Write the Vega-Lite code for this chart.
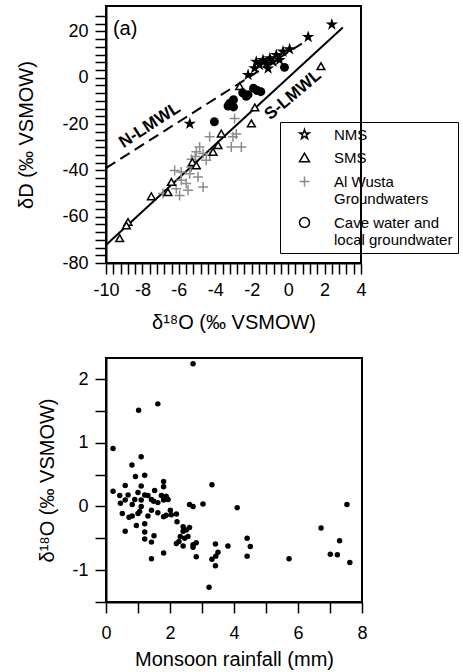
{
  "$schema": "https://vega.github.io/schema/vega-lite/v6.json",
  "padding": {"left": 15, "top": 5, "right": 0, "bottom": 0},
  "config": {
    "font": "Liberation Sans",
    "view": {"stroke": "black", "strokeWidth": 2},
    "axis": {"domainColor": "black", "domainWidth": 2, "tickSize": 11, "tickColor": "black", "tickWidth": 1.5, "labelColor": "black", "labelFontSize": 18, "titleFontSize": 20, "titleFontWeight": "normal", "titleColor": "black", "grid": false, "labelPadding": 7, "labelFont": "Liberation Sans", "titleFont": "Liberation Sans", "labelOverlap": false, "labelFlush": false}
  },
  "spacing": 24,
  "resolve": {"scale": {"shape": "independent", "color": "independent"}, "legend": {"shape": "independent", "color": "independent"}},
  "datasets": {
    "iso": [
      {"series": "NMS", "d18O": 2.4, "dD": 23},
      {"series": "NMS", "d18O": 1.1, "dD": 17.6},
      {"series": "NMS", "d18O": 0.08, "dD": 12.3},
      {"series": "NMS", "d18O": -0.28, "dD": 11.3},
      {"series": "NMS", "d18O": -0.65, "dD": 9.8},
      {"series": "NMS", "d18O": -1.0, "dD": 8.4},
      {"series": "NMS", "d18O": -1.38, "dD": 7.7},
      {"series": "NMS", "d18O": -1.75, "dD": 6.9},
      {"series": "NMS", "d18O": -1.57, "dD": 5.5},
      {"series": "NMS", "d18O": -1.2, "dD": 6.2},
      {"series": "NMS", "d18O": -0.83, "dD": 6.9},
      {"series": "NMS", "d18O": -1.84, "dD": 4.1},
      {"series": "NMS", "d18O": -2.2, "dD": 1.2},
      {"series": "NMS", "d18O": -0.47, "dD": 7.7},
      {"series": "NMS", "d18O": -1.1, "dD": 4.0},
      {"series": "NMS", "d18O": -5.4, "dD": -19.9},
      {"series": "SMS", "d18O": 1.8, "dD": 5},
      {"series": "SMS", "d18O": -2.66, "dD": -3.6},
      {"series": "SMS", "d18O": -1.83, "dD": -12.8},
      {"series": "SMS", "d18O": -2.02, "dD": -19.7},
      {"series": "SMS", "d18O": -3.67, "dD": -24.1},
      {"series": "SMS", "d18O": -3.85, "dD": -29.1},
      {"series": "SMS", "d18O": -4.12, "dD": -32},
      {"series": "SMS", "d18O": -5.26, "dD": -36.4},
      {"series": "SMS", "d18O": -5.04, "dD": -37.8},
      {"series": "SMS", "d18O": -6.41, "dD": -45},
      {"series": "SMS", "d18O": -6.6, "dD": -49.4},
      {"series": "SMS", "d18O": -7.51, "dD": -51.2},
      {"series": "SMS", "d18O": -8.79, "dD": -62.3},
      {"series": "SMS", "d18O": -8.88, "dD": -63.8},
      {"series": "SMS", "d18O": -9.25, "dD": -69.3},
      {"series": "Al Wusta|Groundwaters", "d18O": -2.94, "dD": -17.6},
      {"series": "Al Wusta|Groundwaters", "d18O": -3.03, "dD": -25.5},
      {"series": "Al Wusta|Groundwaters", "d18O": -2.85, "dD": -24.3},
      {"series": "Al Wusta|Groundwaters", "d18O": -2.57, "dD": -29.9},
      {"series": "Al Wusta|Groundwaters", "d18O": -4.31, "dD": -25.5},
      {"series": "Al Wusta|Groundwaters", "d18O": -4.86, "dD": -29.9},
      {"series": "Al Wusta|Groundwaters", "d18O": -5.04, "dD": -32},
      {"series": "Al Wusta|Groundwaters", "d18O": -4.67, "dD": -32.7},
      {"series": "Al Wusta|Groundwaters", "d18O": -4.31, "dD": -33.5},
      {"series": "Al Wusta|Groundwaters", "d18O": -3.12, "dD": -29.9},
      {"series": "Al Wusta|Groundwaters", "d18O": -6.23, "dD": -40},
      {"series": "Al Wusta|Groundwaters", "d18O": -5.87, "dD": -40.7},
      {"series": "Al Wusta|Groundwaters", "d18O": -5.4, "dD": -41.4},
      {"series": "Al Wusta|Groundwaters", "d18O": -4.95, "dD": -42.9},
      {"series": "Al Wusta|Groundwaters", "d18O": -5.87, "dD": -44.3},
      {"series": "Al Wusta|Groundwaters", "d18O": -5.6, "dD": -45.7},
      {"series": "Al Wusta|Groundwaters", "d18O": -6.14, "dD": -47.9},
      {"series": "Al Wusta|Groundwaters", "d18O": -5.5, "dD": -48.6},
      {"series": "Al Wusta|Groundwaters", "d18O": -5.96, "dD": -50.8},
      {"series": "Al Wusta|Groundwaters", "d18O": -4.67, "dD": -47.2},
      {"series": "Al Wusta|Groundwaters", "d18O": -5.32, "dD": -38.5},
      {"series": "Al Wusta|Groundwaters", "d18O": -6.87, "dD": -50},
      {"series": "Al Wusta|Groundwaters", "d18O": -4.5, "dD": -35.6},
      {"series": "Al Wusta|Groundwaters", "d18O": -5.1, "dD": -34},
      {"series": "Al Wusta|Groundwaters", "d18O": -5.3, "dD": -35.2},
      {"series": "Cave water and|local groundwater", "d18O": -0.2, "dD": 4.5},
      {"series": "Cave water and|local groundwater", "d18O": -1.7, "dD": -5.5},
      {"series": "Cave water and|local groundwater", "d18O": -1.9, "dD": -4.5},
      {"series": "Cave water and|local groundwater", "d18O": -2.2, "dD": -7.3},
      {"series": "Cave water and|local groundwater", "d18O": -2.5, "dD": -6.5},
      {"series": "Cave water and|local groundwater", "d18O": -2.3, "dD": -8},
      {"series": "Cave water and|local groundwater", "d18O": -3.0, "dD": -9.5},
      {"series": "Cave water and|local groundwater", "d18O": -3.2, "dD": -11},
      {"series": "Cave water and|local groundwater", "d18O": -3.3, "dD": -12.2},
      {"series": "Cave water and|local groundwater", "d18O": -3.0, "dD": -12.6},
      {"series": "Cave water and|local groundwater", "d18O": -4.05, "dD": -19},
      {"series": "Cave water and|local groundwater", "d18O": -1.5, "dD": -6}
    ],
    "lines": [
      {"line": "N-LMWL", "d18O": -10, "dD": -39},
      {"line": "N-LMWL", "d18O": 0.9, "dD": 15.5},
      {"line": "S-LMWL", "d18O": -10, "dD": -72.2},
      {"line": "S-LMWL", "d18O": 3.0, "dD": 21.7}
    ],
    "rain": [
      {"rain": 2.72, "d18O": 2.24}, {"rain": 1.62, "d18O": 1.61}, {"rain": 1.02, "d18O": 1.51}, {"rain": 0.22, "d18O": 0.91},
      {"rain": 1.10, "d18O": 0.78}, {"rain": 0.81, "d18O": 0.65}, {"rain": 0.92, "d18O": 0.47}, {"rain": 1.21, "d18O": 0.49},
      {"rain": 3.31, "d18O": 0.34}, {"rain": 0.60, "d18O": 0.33}, {"rain": 1.10, "d18O": 0.32}, {"rain": 1.80, "d18O": 0.39},
      {"rain": 1.80, "d18O": 0.31}, {"rain": 0.22, "d18O": 0.24}, {"rain": 0.43, "d18O": 0.17}, {"rain": 0.69, "d18O": 0.18},
      {"rain": 0.60, "d18O": 0.10}, {"rain": 0.82, "d18O": 0.03}, {"rain": 0.90, "d18O": 0.11}, {"rain": 1.10, "d18O": 0.10},
      {"rain": 1.10, "d18O": 0.0}, {"rain": 1.05, "d18O": -0.08}, {"rain": 1.21, "d18O": 0.18}, {"rain": 1.31, "d18O": 0.17},
      {"rain": 1.42, "d18O": 0.11}, {"rain": 1.52, "d18O": 0.25}, {"rain": 1.49, "d18O": 0.08}, {"rain": 1.62, "d18O": 0.06},
      {"rain": 1.73, "d18O": 0.17}, {"rain": 1.88, "d18O": 0.16}, {"rain": 1.94, "d18O": 0.11}, {"rain": 1.80, "d18O": 0.10},
      {"rain": 0.51, "d18O": -0.11}, {"rain": 0.72, "d18O": -0.17}, {"rain": 0.82, "d18O": -0.15}, {"rain": 1.0, "d18O": -0.11},
      {"rain": 1.31, "d18O": -0.15}, {"rain": 1.42, "d18O": -0.06}, {"rain": 1.62, "d18O": -0.10}, {"rain": 1.80, "d18O": -0.16},
      {"rain": 1.88, "d18O": -0.14}, {"rain": 2.01, "d18O": -0.06}, {"rain": 2.04, "d18O": -0.13}, {"rain": 2.20, "d18O": -0.12},
      {"rain": 2.22, "d18O": -0.24}, {"rain": 1.21, "d18O": -0.27}, {"rain": 0.60, "d18O": -0.39}, {"rain": 1.21, "d18O": -0.40},
      {"rain": 1.21, "d18O": -0.51}, {"rain": 1.5, "d18O": -0.46}, {"rain": 1.42, "d18O": -0.56}, {"rain": 1.42, "d18O": -0.82},
      {"rain": 1.80, "d18O": -0.73}, {"rain": 2.20, "d18O": -0.58}, {"rain": 2.41, "d18O": -0.32}, {"rain": 2.41, "d18O": -0.39},
      {"rain": 2.51, "d18O": -0.37}, {"rain": 2.61, "d18O": -0.33}, {"rain": 2.32, "d18O": -0.47}, {"rain": 2.46, "d18O": -0.50},
      {"rain": 2.56, "d18O": -0.47}, {"rain": 2.41, "d18O": -0.62}, {"rain": 2.28, "d18O": -0.55}, {"rain": 2.72, "d18O": -0.60},
      {"rain": 2.82, "d18O": -0.57}, {"rain": 2.72, "d18O": -0.64}, {"rain": 2.82, "d18O": -0.79}, {"rain": 2.61, "d18O": 0.03},
      {"rain": 2.72, "d18O": 0.0}, {"rain": 3.03, "d18O": 0.04}, {"rain": 3.22, "d18O": -1.27}, {"rain": 3.31, "d18O": -0.83},
      {"rain": 3.42, "d18O": -0.59}, {"rain": 3.43, "d18O": -0.78}, {"rain": 3.5, "d18O": -0.72}, {"rain": 3.42, "d18O": -0.93},
      {"rain": 3.81, "d18O": -0.62}, {"rain": 4.10, "d18O": -0.02}, {"rain": 4.41, "d18O": -0.50}, {"rain": 4.51, "d18O": -0.63},
      {"rain": 4.41, "d18O": -0.78}, {"rain": 5.72, "d18O": -0.82}, {"rain": 6.72, "d18O": -0.34}, {"rain": 7.01, "d18O": -0.75},
      {"rain": 7.23, "d18O": -0.76}, {"rain": 7.30, "d18O": -0.54}, {"rain": 7.53, "d18O": 0.03}, {"rain": 7.62, "d18O": -0.88},
      {"rain": 0.45, "d18O": 0.05}, {"rain": 1.0, "d18O": 0.22}, {"rain": 0.95, "d18O": -0.3}
    ],
    "labelsA": [
      {"t": "(a)", "d18O": -9.62, "dD": 21.1},
      {"t": "N-LMWL", "d18O": -7.6, "dD": -20.5},
      {"t": "S-LMWL", "d18O": 0.27, "dD": -7.4}
    ]
  },
  "vconcat": [
    {
      "width": 255,
      "height": 257,
      "encoding": {
        "x": {"field": "d18O", "type": "quantitative", "scale": {"domain": [-10, 4], "nice": false, "zero": false},
          "axis": {"title": "δ¹⁸O (‰ VSMOW)", "titlePadding": 13,
            "values": [-10,-9.6,-9.2,-8.8,-8.4,-8,-7.6,-7.2,-6.8,-6.4,-6,-5.6,-5.2,-4.8,-4.4,-4,-3.6,-3.2,-2.8,-2.4,-2,-1.6,-1.2,-0.8,-0.4,0,0.4,0.8,1.2,1.6,2,2.4,2.8,3.2,3.6,4],
            "labelExpr": "abs(datum.value/2 - round(datum.value/2)) < 0.001 ? ('' + datum.value) : ''"}},
        "y": {"field": "dD", "type": "quantitative", "scale": {"domain": [-80, 31], "nice": false, "zero": false},
          "axis": {"title": "δD (‰ VSMOW)", "titlePadding": 25,
            "values": [-80,-76.667,-73.333,-70,-66.667,-63.333,-60,-56.667,-53.333,-50,-46.667,-43.333,-40,-36.667,-33.333,-30,-26.667,-23.333,-20,-16.667,-13.333,-10,-6.667,-3.333,0,3.333,6.667,10,13.333,16.667,20,23.333,26.667],
            "labelExpr": "abs(datum.value/20 - round(datum.value/20)) < 0.001 ? ('' + datum.value) : ''"}}
      },
      "layer": [
        {
          "data": {"name": "lines"},
          "transform": [{"filter": "datum.line === 'N-LMWL'"}],
          "mark": {"type": "line", "color": "black", "strokeWidth": 2, "strokeDash": [11, 6]},
          "encoding": {}
        },
        {
          "data": {"name": "lines"},
          "transform": [{"filter": "datum.line === 'S-LMWL'"}],
          "mark": {"type": "line", "color": "black", "strokeWidth": 2},
          "encoding": {}
        },
        {
          "data": {"name": "iso"},
          "mark": {"type": "point", "filled": false, "opacity": 0, "strokeWidth": 1.5, "size": 90},
          "encoding": {
            "shape": {"field": "series", "type": "nominal",
              "scale": {"domain": ["NMS", "SMS", "Al Wusta|Groundwaters", "Cave water and|local groundwater"],
                "range": ["M0,-1L0.225,-0.309L0.951,-0.309L0.363,0.118L0.588,0.809L0,0.382L-0.588,0.809L-0.363,0.118L-0.951,-0.309L-0.225,-0.309Z", "triangle-up", "M-1,0L1,0M0,-1L0,1", "circle"]},
              "legend": {"title": null, "orient": "none", "legendX": 174, "legendY": 116, "strokeColor": "black", "padding": 5, "symbolOffset": 12, "labelOffset": 22, "labelFontSize": 15, "labelColor": "black", "labelLimit": 300, "rowPadding": 7, "symbolSize": 100, "symbolStrokeWidth": 1.5, "symbolOpacity": 1, "labelExpr": "split(datum.label, '|')",
                "encode": {"symbols": {"update": {"fill": {"signal": "datum.value === 'NMS' || datum.value === 'Cave water and|local groundwater' ? 'black' : 'transparent'"}}}}}},
            "color": {"field": "series", "type": "nominal",
              "scale": {"domain": ["NMS", "SMS", "Al Wusta|Groundwaters", "Cave water and|local groundwater"], "range": ["black", "black", "#8c8c8c", "black"]},
              "legend": {"title": null, "orient": "none", "legendX": 174, "legendY": 116, "strokeColor": "black", "padding": 5, "symbolOffset": 12, "labelOffset": 22, "labelFontSize": 15, "labelColor": "black", "labelLimit": 300, "rowPadding": 7, "symbolSize": 100, "symbolStrokeWidth": 1.5, "symbolOpacity": 1, "labelExpr": "split(datum.label, '|')",
                "encode": {"symbols": {"update": {"fill": {"signal": "datum.value === 'NMS' || datum.value === 'Cave water and|local groundwater' ? 'black' : 'transparent'"}}}}}}
          }
        },
        {
          "data": {"name": "iso"},
          "transform": [{"filter": "datum.series === 'Al Wusta|Groundwaters'"}],
          "mark": {"type": "point", "shape": "M-1,0L1,0M0,-1L0,1", "stroke": "#8c8c8c", "strokeWidth": 1.5, "size": 100, "opacity": 1}
        },
        {
          "data": {"name": "iso"},
          "transform": [{"filter": "datum.series === 'SMS'"}],
          "mark": {"type": "point", "shape": "triangle-up", "fill": "white", "stroke": "black", "filled": true, "strokeWidth": 1.5, "size": 60, "opacity": 1}
        },
        {
          "data": {"name": "iso"},
          "transform": [{"filter": "datum.series === 'NMS'"}],
          "mark": {"type": "point", "shape": "M0,-1L0.225,-0.309L0.951,-0.309L0.363,0.118L0.588,0.809L0,0.382L-0.588,0.809L-0.363,0.118L-0.951,-0.309L-0.225,-0.309Z", "filled": true, "color": "black", "size": 170, "opacity": 1}
        },
        {
          "data": {"name": "iso"},
          "transform": [{"filter": "datum.series === 'Cave water and|local groundwater'"}],
          "mark": {"type": "circle", "color": "black", "size": 80, "opacity": 1}
        },
        {
          "data": {"name": "labelsA"},
          "transform": [{"filter": "datum.t === '(a)'"}],
          "mark": {"type": "text", "align": "left", "baseline": "middle", "fontSize": 20, "color": "black"},
          "encoding": {"text": {"field": "t"}}
        },
        {
          "data": {"name": "labelsA"},
          "transform": [{"filter": "datum.t === 'N-LMWL'"}],
          "mark": {"type": "text", "align": "center", "baseline": "middle", "fontSize": 17, "fontWeight": "bold", "angle": -33, "color": "black"},
          "encoding": {"text": {"field": "t"}}
        },
        {
          "data": {"name": "labelsA"},
          "transform": [{"filter": "datum.t === 'S-LMWL'"}],
          "mark": {"type": "text", "align": "center", "baseline": "middle", "fontSize": 17, "fontWeight": "bold", "angle": -40, "color": "black"},
          "encoding": {"text": {"field": "t"}}
        }
      ]
    },
    {
      "width": 256,
      "height": 244,
      "data": {"name": "rain"},
      "mark": {"type": "circle", "size": 30, "color": "black", "opacity": 1},
      "encoding": {
        "x": {"field": "rain", "type": "quantitative", "scale": {"domain": [0, 8], "nice": false},
          "axis": {"title": "Monsoon rainfall (mm)", "titlePadding": 7, "labelPadding": 11, "values": [0,1,2,3,4,5,6,7,8],
            "labelExpr": "datum.value % 2 === 0 ? ('' + datum.value) : ''"}},
        "y": {"field": "d18O", "type": "quantitative", "scale": {"domain": [-1.5, 2.33], "nice": false, "zero": false},
          "axis": {"title": "δ¹⁸O (‰ VSMOW)", "titlePadding": 14, "values": [-1.5,-1,-0.5,0,0.5,1,1.5,2],
            "labelExpr": "abs(datum.value - round(datum.value)) < 0.001 ? ('' + datum.value) : ''"}}
      }
    }
  ]
}
